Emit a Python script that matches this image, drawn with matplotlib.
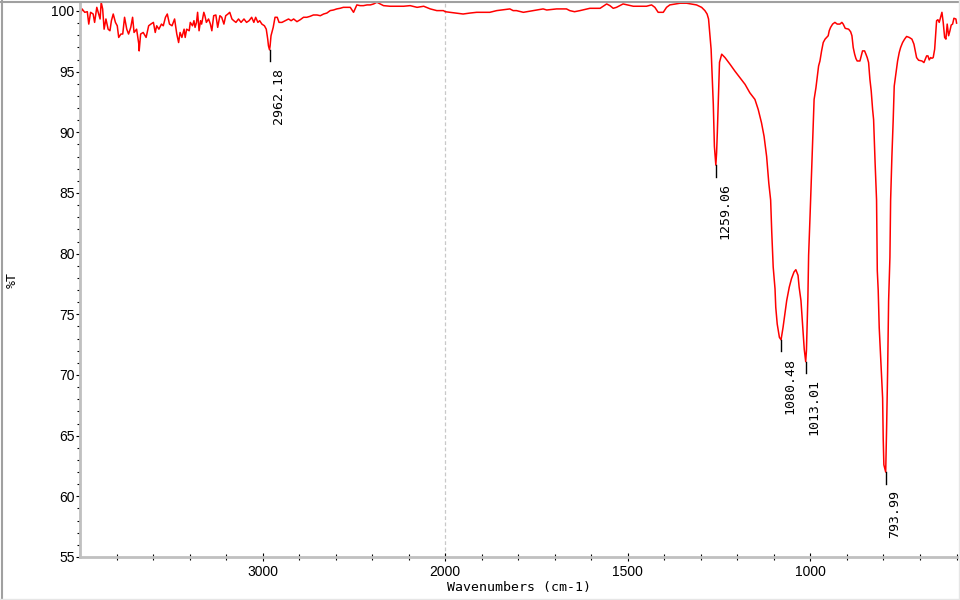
import numpy as np
import matplotlib.pyplot as plt
from matplotlib.lines import Line2D


# FT-IR spectrum
wavenumbers = [
    3996, 3989, 3974, 3960, 3952, 3942, 3928, 3920, 3908, 3898, 3890, 3884, 3876, 3868, 3858,
    3846, 3836, 3828, 3818, 3806, 3796, 3788, 3776, 3766, 3756, 3744, 3734, 3722, 3712, 3704,
    3690, 3678, 3676, 3668, 3654, 3638, 3624, 3612, 3598, 3588, 3580, 3568, 3554, 3544, 3532,
    3522, 3510, 3496, 3482, 3470, 3460, 3452, 3442, 3430, 3424, 3416, 3402, 3396, 3384, 3376,
    3370, 3362, 3356, 3348, 3340, 3334, 3322, 3316, 3308, 3296, 3286, 3278, 3268, 3256, 3246,
    3234, 3224, 3212, 3202, 3190, 3180, 3168, 3158, 3146, 3132, 3118, 3102, 3088, 3074, 3060,
    3048, 3038, 3026, 3016, 3004, 2990, 2980, 2972, 2968, 2962.18, 2959, 2954, 2942, 2932, 2920,
    2910, 2894, 2876, 2858, 2844, 2830, 2812, 2794, 2776, 2758, 2740, 2722, 2702, 2684, 2666,
    2648, 2630, 2612, 2594, 2576, 2558, 2520, 2502, 2484, 2466, 2448, 2428, 2410, 2392, 2374,
    2356, 2338, 2302, 2264, 2228, 2192, 2154, 2118, 2082, 2046, 2010, 2000, 1987, 1969, 1951,
    1932, 1914, 1896, 1878, 1859, 1823, 1814, 1805, 1786, 1759, 1732, 1722, 1695, 1668, 1659,
    1646, 1631, 1604, 1576, 1558, 1549, 1540, 1531, 1513, 1485, 1467, 1449, 1435, 1426, 1417,
    1403, 1394, 1385, 1357, 1339, 1312, 1298, 1289, 1283, 1279, 1276, 1272, 1269, 1266, 1263,
    1259.06, 1257, 1255, 1252, 1249, 1243, 1234, 1220, 1207, 1193, 1179, 1166, 1152, 1143, 1134,
    1127, 1120, 1114, 1109, 1106, 1102, 1097, 1095, 1091, 1085, 1080.48, 1078, 1075, 1070, 1065,
    1058, 1052, 1045, 1040, 1034, 1031, 1026, 1023, 1020, 1017, 1013.01, 1011, 1009, 1007, 1005,
    1003, 1001, 999.6, 992, 990, 985, 981.5, 977.7, 974, 969.5, 965, 960, 955.7, 951.4, 948.6,
    944.8, 939.3, 933, 926.7, 919.3, 914, 910.3, 904.8, 895.5, 890, 886.4, 882.9, 879, 875.5,
    872, 864.5, 861, 857.4, 851.8, 848.1, 844.6, 840.8, 837.2, 833.6, 829.8, 827.1, 823, 819,
    818.5, 817, 814.5, 811.7, 806, 802.4, 800.8, 799, 793.99, 791.5, 788.7, 786, 782.4, 780.5,
    777, 773.4, 770.6, 766.8, 764.1, 761.4, 756.9, 753.1, 747.7, 742.2, 736.7, 729.5, 722.2,
    716.7, 713.1, 709.4, 703.9, 694.8, 689.3, 685.8, 681.9, 678.3, 674.8, 670.9, 667.4, 663.9,
    659.9, 657.3, 654.6, 651, 647.4, 643.6, 640, 636.5, 632.6, 629.1, 625.6, 621.7, 618.1, 614.6,
    610.8, 607.2, 601.7, 599.9,
]
transmittance = [
    99.75, 100.17, 99.89, 99.94, 98.92, 99.89, 99.75, 99.06, 100.3, 99.75, 99.34, 100.72, 100.17, 98.5, 99.34,
    98.5, 98.37, 99.2, 99.75, 99.06, 98.78, 97.82, 98.1, 98.1, 99.48, 98.5, 98.1, 98.65, 99.48, 98.23,
    98.5, 97.27, 96.71, 98.1, 98.23, 97.82, 98.78, 98.92, 99.06, 98.23, 98.78, 98.5, 98.92, 98.78, 99.48,
    99.75, 98.92, 98.78, 99.34, 98.1, 97.4, 98.23, 97.82, 98.5, 97.82, 98.5, 98.37, 99.06, 98.78, 99.2,
    98.65, 99.06, 99.89, 98.37, 99.2, 98.92, 99.89, 99.61, 99.06, 99.34, 98.92, 98.37, 99.61, 99.67, 98.65,
    99.61, 99.48, 98.92, 99.61, 99.75, 99.89, 99.34, 99.2, 99.06, 99.34, 99.06, 99.34, 99.06, 99.2, 99.48,
    99.06, 99.48, 99.06, 99.2, 98.92, 98.78, 98.5, 97.68, 97.13, 96.8, 97.13, 97.96, 98.65, 99.48, 99.48,
    99.06, 99.06, 99.2, 99.34, 99.2, 99.34, 99.12, 99.28, 99.48, 99.48, 99.56, 99.67, 99.67, 99.61, 99.75,
    99.83, 100.03, 100.08, 100.17, 100.22, 100.3, 100.3, 99.89, 100.5, 100.44, 100.44, 100.5, 100.5, 100.58, 100.72,
    100.58, 100.44, 100.39, 100.39, 100.39, 100.44, 100.3, 100.39, 100.17, 100.03, 100.03, 99.94, 99.89, 99.83, 99.75,
    99.83, 99.89, 99.89, 99.89, 100.03, 100.17, 100.03, 100.03, 99.89, 100.03, 100.17, 100.08, 100.17, 100.17, 100.03,
    99.94, 100.03, 100.22, 100.22, 100.58, 100.44, 100.22, 100.3, 100.58, 100.39, 100.39, 100.39, 100.5, 100.3, 99.89,
    99.89, 100.3, 100.5, 100.64, 100.64, 100.5, 100.3, 100.03, 99.75, 99.34, 98.23, 96.85, 94.5, 92.3, 88.84,
    87.3, 88.3, 89.96, 92.87, 95.77, 96.44, 96.16, 95.6, 95.05, 94.5, 93.95, 93.26, 92.71, 91.88, 90.78,
    89.67, 88.01, 85.8, 84.42, 81.8, 78.9, 77.1, 75.58, 74.2, 73.1, 72.9, 73.38, 73.93, 75.04, 76.14,
    77.24, 77.93, 78.49, 78.68, 78.21, 77.24, 76.14, 74.76, 73.38, 72.13, 71.1, 72.0, 74.2, 76.41, 79.87,
    81.66, 83.18, 84.42, 91.05, 92.71, 93.67, 94.5, 95.47, 95.88, 96.71, 97.4, 97.68, 97.82, 97.96, 98.37,
    98.65, 98.92, 99.06, 98.92, 98.92, 99.06, 98.92, 98.57, 98.5, 98.29, 97.96, 96.99, 96.44, 96.08,
    95.88, 95.88, 96.3, 96.71, 96.71, 96.44, 96.16, 95.75, 94.37, 93.4, 91.88, 91.05, 87.5, 84.42,
    83.0, 78.6, 77.0, 73.9, 70.3, 68.1, 64.8, 62.6, 62.0, 65.6, 70.3, 76.1, 79.7, 84.4,
    88.0, 91.05, 93.81, 94.64, 95.19, 95.88, 96.58, 96.99, 97.4, 97.68, 97.9, 97.82, 97.68,
    97.27, 96.71, 96.16, 95.94, 95.88, 95.75, 96.0, 96.3, 96.3, 95.97, 96.16, 96.1, 96.16,
    96.85, 97.96, 99.2, 99.28, 99.06, 99.48, 99.89, 99.06, 97.82, 97.68, 98.92, 97.96, 98.37, 98.84,
    98.92, 99.4, 99.34, 99.0,
]

peak_wn = [2962.18, 1259.06, 1080.48, 1013.01, 793.99]
peak_labels = ['2962.18', '1259.06', '1080.48', '1013.01', '793.99']

x_major = [3000, 2000, 1500, 1000]
x_minor = [3800, 3600, 3400, 3200, 2800, 2600, 2400, 2200,
           1900, 1800, 1700, 1600, 1400, 1300, 1200, 1100, 900, 800, 700, 600]
y_major = list(range(55, 101, 5))
y_minor = list(range(55, 101))


# the axis is compressed by 2 above 2000 cm-1
def fwd(w):
    w = np.asarray(w, dtype=float)
    return np.where(w > 2000, 2000 + (w - 2000) / 2, w)


def inv(t):
    t = np.asarray(t, dtype=float)
    return np.where(t > 2000, 2000 + (t - 2000) * 2, t)


mono = 'DejaVu Sans Mono'

fig = plt.figure(figsize=(9.6, 6), dpi=100)
ax = fig.add_axes([80 / 960, 43 / 600, 878 / 960, 555 / 600])

ax.set_xscale('function', functions=(fwd, inv))
ax.plot(wavenumbers, transmittance, color='#ff0000', lw=1.1)
ax.axvline(2000, color='#c8c8c8', lw=0.9, ls=(0, (3, 2)), zorder=0)

for w, lab in zip(peak_wn, peak_labels):
    t = transmittance[wavenumbers.index(w)]
    ax.plot([w, w], [t, t - 0.95], color='black', lw=1)
    ax.annotate(lab, xy=(w, t - 0.95), xytext=(1.5, -4.5), textcoords='offset points',
                rotation=90, ha='left', va='top', fontsize=9.5, family=mono)

ax.set_xlim(4000, 596)
ax.set_ylim(55, 100.74)

ax.set_xticks(x_major)
ax.set_xticks(x_minor, minor=True)
ax.set_xticklabels([str(v) for v in x_major])
ax.set_yticks(y_major)
ax.set_yticks(y_minor, minor=True)

for side in ['top', 'right']:
    ax.spines[side].set_visible(False)
for side in ['left', 'bottom']:
    ax.spines[side].set_color('#c0c0c0')
    ax.spines[side].set_linewidth(2)

ax.tick_params(axis='x', which='major', direction='inout', length=6, width=0.8, pad=3)
ax.tick_params(axis='x', which='minor', direction='inout', length=4, width=0.8)
ax.tick_params(axis='y', which='major', direction='out', length=3, width=0.8, pad=1)
ax.tick_params(axis='y', which='minor', direction='out', length=2, width=0.8)
for lbl in ax.get_xticklabels() + ax.get_yticklabels():
    lbl.set_family('Liberation Sans')
    lbl.set_fontsize(10)

ax.set_xlabel('Wavenumbers (cm-1)', family=mono, fontsize=9.5, labelpad=1)
fig.text(12 / 960, 1 - 280 / 600, '%T', rotation=90, ha='center', va='center',
         family=mono, fontsize=9.5)

# sunken panel border around the figure
fig.add_artist(Line2D([0.002, 0.002], [0, 1], transform=fig.transFigure, color='#a0a0a0', lw=1.5))
fig.add_artist(Line2D([0, 1], [0.997, 0.997], transform=fig.transFigure, color='#a0a0a0', lw=1.5))
fig.add_artist(Line2D([0.999, 0.999], [0, 1], transform=fig.transFigure, color='#e6e6e6', lw=1))
fig.add_artist(Line2D([0, 1], [0.001, 0.001], transform=fig.transFigure, color='#e6e6e6', lw=1))

fig.savefig('out.png', dpi=100)
